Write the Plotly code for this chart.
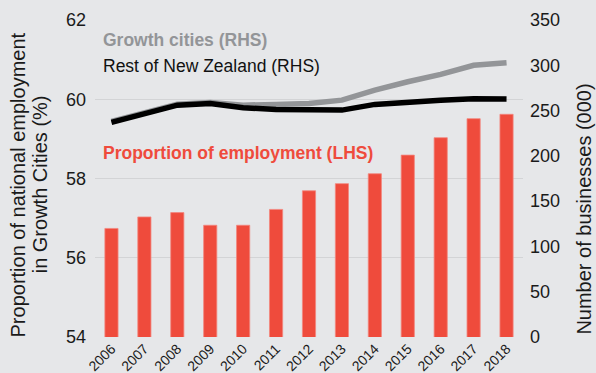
import plotly.graph_objects as go

years = ["2006", "2007", "2008", "2009", "2010", "2011", "2012",
         "2013", "2014", "2015", "2016", "2017", "2018"]

# Share of national employment in the Growth Cities (%), left axis
employment_share = [56.74, 57.03, 57.14, 56.82, 56.82, 57.22, 57.69,
                    57.87, 58.12, 58.59, 59.03, 59.51, 59.62]

# Number of businesses (000), right axis
growth_cities = [238, 247, 257, 259, 256, 256.8, 257.9,
                 261.5, 272.6, 281.8, 290, 300, 302.8]
rest_of_nz = [236.9, 246.4, 256, 257.9, 253, 251.3, 250.5,
              250.5, 256.8, 259.7, 261.5, 263, 262.7]

left_ticks = [54, 56, 58, 60, 62]
right_ticks = [0, 50, 100, 150, 200, 250, 300, 350]

RED = "#ef4b3c"
GREY = "#939598"
BG = "#e6e7e9"
FONT = "Liberation Sans, Arial, sans-serif"
INK = "#1a1a1a"

fig = go.Figure()

fig.add_trace(go.Bar(
    x=years, y=employment_share, name="Proportion of employment (LHS)",
    marker=dict(color=RED, line=dict(color="#f2877d", width=0.8)),
    width=0.4, yaxis="y",
))
fig.add_trace(go.Scatter(
    x=years, y=growth_cities, name="Growth cities (RHS)", mode="lines",
    line=dict(color=GREY, width=5.5), yaxis="y2",
))
fig.add_trace(go.Scatter(
    x=years, y=rest_of_nz, name="Rest of New Zealand (RHS)", mode="lines",
    line=dict(color="#000000", width=5.5), yaxis="y2",
))

fig.update_layout(
    width=596, height=373,
    margin=dict(l=95, r=73, t=20, b=36, autoexpand=False),
    paper_bgcolor=BG, plot_bgcolor=BG,
    showlegend=False,
    font=dict(family=FONT, color=INK, size=17),
    xaxis=dict(
        type="category", range=[-0.5, 12.5],
        tickangle=-45, tickfont=dict(size=14),
        ticklabelstandoff=0,
        showgrid=False, showline=False, zeroline=False, ticks="",
    ),
    yaxis=dict(
        range=[54, 62], tickvals=left_ticks,
        showgrid=True, gridcolor="#d3d4d6", gridwidth=1,
        zeroline=False, showline=False, ticks="",
        ticklabelstandoff=8,
        tickfont=dict(size=18),
    ),
    yaxis2=dict(
        range=[0, 350], tickvals=right_ticks, overlaying="y", side="right",
        showgrid=False, zeroline=False, showline=False, ticks="",
        ticklabelstandoff=6,
        tickfont=dict(size=18),
    ),
)

# Series labels placed inside the plot area
labels = [
    ("<b>Growth cities (RHS)</b>", GREY, 0.937),
    ("Rest of New Zealand (RHS)", "#111111", 0.856),
    ("<b>Proportion of employment (LHS)</b>", RED, 0.580),
]
for text, color, ypos in labels:
    fig.add_annotation(
        text=text, xref="paper", yref="paper", x=0.014, y=ypos,
        xanchor="left", yanchor="middle", showarrow=False,
        font=dict(family=FONT, size=17.5, color=color),
    )

# Axis titles, rotated; the left one is set as two centred lines
axis_titles = [
    ("Proportion of national employment", -0.180, 0.481, 20),
    ("in Growth Cities (%)", -0.129, 0.481, 20),
    ("Number of businesses (000)", 1.1425, 0.405, 20),
]
for text, xpos, ypos, size in axis_titles:
    fig.add_annotation(
        text=text, xref="paper", yref="paper", x=xpos, y=ypos,
        xanchor="center", yanchor="middle", textangle=-90, showarrow=False,
        font=dict(family=FONT, size=size, color=INK),
    )

fig.write_html("out.html")
